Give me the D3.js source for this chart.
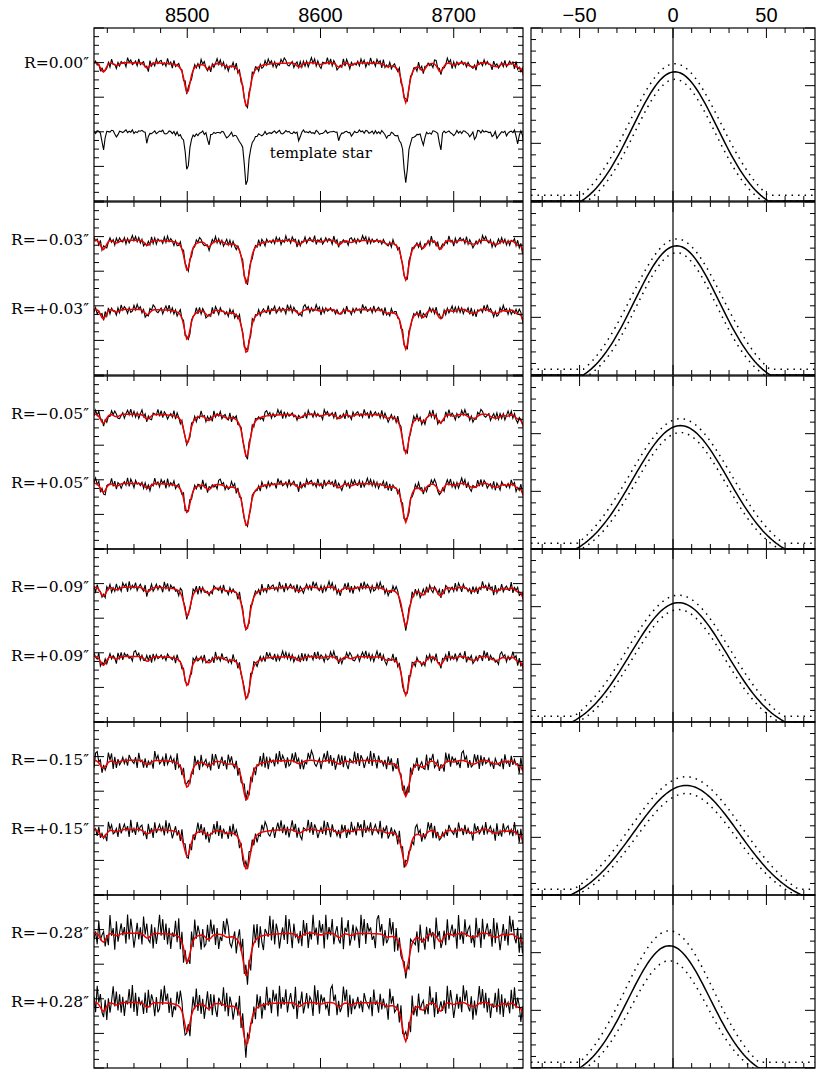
<!DOCTYPE html>
<html><head><meta charset="utf-8">
<script src="https://cdn.jsdelivr.net/npm/d3@7"></script>
<style>body{margin:0;background:#fff}</style></head>
<body><svg id="c" width="817" height="1071"></svg>
<script>
// ---- data ----
const waveTicks = [8500, 8600, 8700];
const velTicks = [-50, 0, 50];
const rowLabels = [["R=0.00\u2033", null], ["R=\u22120.03\u2033", "R=+0.03\u2033"], ["R=\u22120.05\u2033", "R=+0.05\u2033"],
  ["R=\u22120.09\u2033", "R=+0.09\u2033"], ["R=\u22120.15\u2033", "R=+0.15\u2033"], ["R=\u22120.28\u2033", "R=+0.28\u2033"]];
const lineCentres = [8500, 8544.5, 8664, 8437, 8447, 8470, 8516, 8530, 8584, 8600, 8614, 8623, 8650, 8677, 8690, 8700, 8712, 8716, 8729, 8733, 8740, 8748, 8754];
const lineDepths  = [0.60, 0.78, 0.74, 0.30, 0.10, 0.18, 0.18, 0.08, 0.13, 0.06, 0.14, 0.08, 0.08, 0.20, 0.28, 0.07, 0.10, 0.13, 0.10, 0.13, 0.08, 0.15, 0.45];
const lineSigmas  = [1.0, 1.2, 1.1, 0.8, 0.7, 0.7, 0.8, 0.7, 0.8, 0.7, 0.8, 0.7, 0.8, 0.8, 0.8, 0.7, 0.7, 0.7, 0.7, 0.7, 0.7, 0.8, 1.0];
const lineLorFrac = [0.5, 0.5, 0.5, 0, 0, 0, 0, 0, 0, 0, 0, 0, 0, 0, 0, 0, 0, 0, 0, 0, 0, 0, 0];
const lineGamma   = [2.5, 3.5, 3.2, 1, 1, 1, 1, 1, 1, 1, 1, 1, 1, 1, 1, 1, 1, 1, 1, 1, 1, 1, 1];
const specLevels = [[2.0, 1.0], [1.95, 0.95], [1.95, 0.95], [1.95, 0.95], [1.95, 0.95], [1.95, 0.95]];
const specBroad  = [[1.8, 0], [1.8, 1.8], [1.9, 1.9], [1.9, 1.9], [2.2, 2.2], [1.9, 1.9]];
const specNoise  = [[0.075, 0.03], [0.07, 0.075], [0.075, 0.08], [0.085, 0.085], [0.14, 0.14], [0.27, 0.25]];
const residuals = "4635275436184527364519573462835746193528467352946183574629385147362958437162594837261548392716452839475162384957261438597324615849372615948273165493827514639285174536284715394628571936482574391658247365194827563418957263495817263";
const losCentre = [1, 2, 4, 3, 7, -2];
const losPeak   = [0.224, 0.224, 0.214, 0.207, 0.190, 0.212];
const losHalfW  = [50, 50, 56, 57, 62, 48];
const losUpPeak = [0.238, 0.236, 0.226, 0.220, 0.205, 0.238];
const losLoPeak = [0.211, 0.212, 0.202, 0.195, 0.176, 0.186];

// ---- layout ----
const svg = d3.select("#c");
const L = {x0: 94, x1: 523}, Rp = {x0: 531, x1: 815};
const rowTops = [28, 202, 376, 549, 722, 895], rowH = 173;
const xw = d3.scaleLinear().domain([8430, 8752]).range([L.x0, L.x1]);
const xv = d3.scaleLinear().domain([-76, 76]).range([Rp.x0, Rp.x1]);
const serif = "'DejaVu Serif','Liberation Serif',serif";

svg.selectAll(".wt").data(waveTicks).join("text").attr("x", d => xw(d)).attr("y", 22)
  .attr("text-anchor", "middle").attr("font-family", "'Liberation Sans',Arial,sans-serif").attr("font-size", 20).text(d => d);
svg.selectAll(".vt").data(velTicks).join("text").attr("x", d => xv(d)).attr("y", 22)
  .attr("text-anchor", "middle").attr("font-family", "'Liberation Sans',Arial,sans-serif").attr("font-size", 20).text(d => d < 0 ? "\u2212" + (-d) : d);

function profile(w, broad, depthScale) {
  let f = 0;
  for (let i = 0; i < lineCentres.length; i++) {
    const s = Math.sqrt(lineSigmas[i] ** 2 + broad ** 2);
    const g = Math.sqrt(lineGamma[i] ** 2 + broad ** 2);
    const dx = w - lineCentres[i];
    const a = lineDepths[i] * (lineSigmas[i] / s) * depthScale;
    const al = lineDepths[i] * (lineGamma[i] / g) * depthScale;
    f += (1 - lineLorFrac[i]) * a * Math.exp(-dx * dx / (2 * s * s)) + lineLorFrac[i] * al / (1 + (dx / g) ** 2);
  }
  return f;
}
const grid = d3.range(8430, 8753, 1.2);
const resid = i => (parseInt(residuals[i % residuals.length]) - 4.5) / 4.5;

function ticksBox(g, x, y, xMinor, xMajor, yMinor, yMajor) {
  const [xa, xb] = x.range(), [yb, ya] = y.range();
  g.append("rect").attr("x", xa).attr("y", ya).attr("width", xb - xa).attr("height", yb - ya)
    .attr("fill", "none").attr("stroke", "#000").attr("stroke-width", 1.2);
  const tk = [];
  d3.range(Math.ceil(x.domain()[0] / xMinor) * xMinor, x.domain()[1] + 1e-9, xMinor).forEach(v => {
    const len = Math.abs(v / xMajor - Math.round(v / xMajor)) < 1e-6 ? 10 : 5;
    tk.push([x(v), ya, x(v), ya + len], [x(v), yb, x(v), yb - len]);
  });
  d3.range(Math.ceil(y.domain()[0] / yMinor - 1e-9) * yMinor, y.domain()[1] + 1e-9, yMinor).forEach(v => {
    const len = Math.abs(v / yMajor - Math.round(v / yMajor)) < 1e-6 ? 10 : 5;
    tk.push([xa, y(v), xa + len, y(v)], [xb, y(v), xb - len, y(v)]);
  });
  g.selectAll(null).data(tk).join("line").attr("x1", d => d[0]).attr("y1", d => d[1]).attr("x2", d => d[2]).attr("y2", d => d[3])
    .attr("stroke", "#000").attr("stroke-width", 1);
}

svg.append("defs").append("clipPath").attr("id", "lc").append("rect")
  .attr("x", L.x0).attr("y", 28).attr("width", L.x1 - L.x0).attr("height", 1040);
svg.select("defs").append("clipPath").attr("id", "rc").append("rect")
  .attr("x", Rp.x0).attr("y", 28).attr("width", Rp.x1 - Rp.x0).attr("height", 1040);

rowTops.forEach((top, r) => {
  const y = d3.scaleLinear().domain([0, 2.5]).range([top + rowH, top]);
  const yr = d3.scaleLinear().domain([0, 0.3]).range([top + rowH, top]);
  const gl = svg.append("g"), gr = svg.append("g");
  const line = d3.line().x(d => xw(d[0])).y(d => y(d[1]));
  [0, 1].forEach(k => {
    const lev = specLevels[r][k];
    const lab = r === 0 && k === 1 ? null : rowLabels[r][k];
    if (lab) svg.append("text").attr("x", 89).attr("y", y(lev) + 5).attr("text-anchor", "end")
      .attr("font-family", serif).attr("font-size", 15.5).text(lab);
    if (r === 0 && k === 1) {
      const tpl = grid.map((w, i) => [w, lev - profile(w, 0, 1) + specNoise[r][k] * resid(i * 3 + 17)]);
      gl.append("path").attr("d", line(tpl)).attr("fill", "none").attr("stroke", "#000").attr("stroke-width", 1.1).attr("clip-path", "url(#lc)");
      svg.append("text").attr("x", xw(8562)).attr("y", y(0.7) + 5).attr("font-family", serif).attr("font-size", 15).text("template star");
      return;
    }
    const b = specBroad[r][k];
    const off = r * 53 + k * 29;
    const obs = grid.map((w, i) => [w, lev - profile(w, b, 1.12) + specNoise[r][k] * resid(i + off)]);
    const mod = grid.map(w => [w, lev - profile(w, b, 1.12)]);
    gl.append("path").attr("d", line(obs)).attr("fill", "none").attr("stroke", "#000").attr("stroke-width", 1.1).attr("clip-path", "url(#lc)");
    gl.append("path").attr("d", line(mod)).attr("fill", "none").attr("stroke", "#e00").attr("stroke-width", 1.5).attr("clip-path", "url(#lc)");
  });
  ticksBox(gl, xw, y, 20, 100, 0.125, 0.5);

  const vs = d3.range(-76, 76.01, 1);
  const shape = (v, c, pk, hw, floor) => {
    const s = hw / 2.2, e = Math.exp(-(hw * hw) / (2 * s * s));
    const val = pk * (Math.exp(-((v - c) ** 2) / (2 * s * s)) - e) / (1 - e);
    return Math.max(floor, val);
  };
  const vl = d3.line().x(d => xv(d[0])).y(d => yr(d[1]));
  gr.append("path").attr("d", vl(vs.map(v => [v, shape(v, losCentre[r], losPeak[r], losHalfW[r], 0)])))
    .attr("fill", "none").attr("stroke", "#000").attr("stroke-width", 1.5).attr("clip-path", "url(#rc)");
  gr.append("path").attr("d", vl(vs.map(v => [v, shape(v, losCentre[r], losUpPeak[r], losHalfW[r] + 4, 0.01)])))
    .attr("fill", "none").attr("stroke", "#000").attr("stroke-width", 1.5).attr("stroke-dasharray", "1.5,5").attr("clip-path", "url(#rc)");
  gr.append("path").attr("d", vl(vs.map(v => [v, shape(v, losCentre[r], losLoPeak[r], losHalfW[r] - 3, 0)])))
    .attr("fill", "none").attr("stroke", "#000").attr("stroke-width", 1.5).attr("stroke-dasharray", "1.5,5").attr("clip-path", "url(#rc)");
  gr.append("line").attr("x1", xv(0)).attr("x2", xv(0)).attr("y1", top).attr("y2", top + rowH).attr("stroke", "#000").attr("stroke-width", 1.2);
  ticksBox(gr, xv, yr, 10, 50, 0.02, 0.1);
});
</script></body></html>
